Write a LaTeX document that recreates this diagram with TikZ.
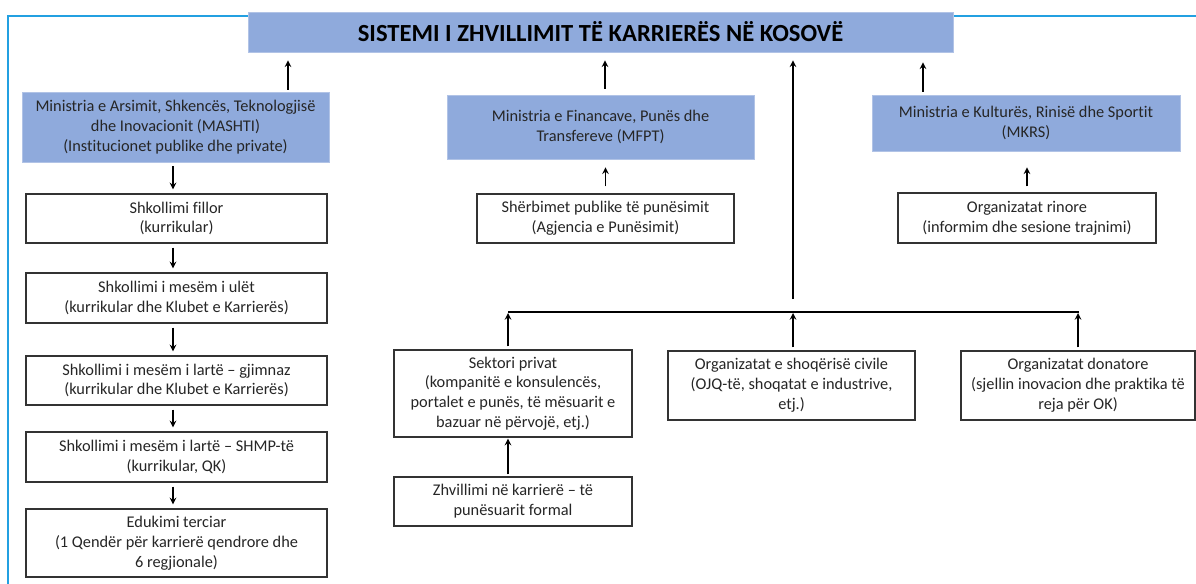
\documentclass[tikz,border=0pt]{standalone}
\usepackage{fontspec}
\setmainfont{Carlito}[Ligatures={NoCommon}]
\definecolor{boxblue}{RGB}{143,170,220}
\definecolor{framecol}{RGB}{35,160,225}
\begin{document}
\begin{tikzpicture}[x=0.02cm,y=-0.02cm,>=stealth,line width=0.7pt,
  every node/.style={font=\fontsize{9.3}{11.3}\selectfont,align=center,inner sep=0pt,text=black!85},
  bluebox/.style={fill=boxblue,draw=boxblue!70!white,line width=0.4pt},
  whitebox/.style={draw=black!80,line width=0.75pt,fill=white}]
\useasboundingbox (0,0) rectangle (1196,583);
\draw[framecol,line width=1.3pt] (8,600) -- (8,16) -- (1210,16);

\node[bluebox,minimum width=14.1cm,minimum height=0.8cm,font=\fontsize{14}{16}\selectfont\bfseries,text=black] (title) at (600.5,32) {SISTEMI I ZHVILLIMIT TË KARRIERËS NË KOSOVË};

\node[bluebox,minimum width=6.14cm,minimum height=1.4cm] (mashti) at (175.5,127) {Ministria e Arsimit, Shkencës, Teknologjisë\\dhe Inovacionit (MASHTI)\\(Institucionet publike dhe private)};
\node[bluebox,minimum width=6.14cm,minimum height=1.28cm] (mfpt) at (600.5,127) {Ministria e Financave, Punës dhe\\Transfereve (MFPT)};
\node[bluebox,minimum width=6.16cm,minimum height=1.12cm] (mkrs) at (1026,123) {Ministria e Kulturës, Rinisë dhe Sportit\\(MKRS)};

\node[whitebox,minimum width=5.14cm,minimum height=0.98cm] (sherbimet) at (605.5,218.5) {Shërbimet publike të punësimit\\(Agjencia e Punësimit)};
\node[whitebox,minimum width=5.16cm,minimum height=1cm] (rinore) at (1027,218) {Organizatat rinore\\(informim dhe sesione trajnimi)};

\node[whitebox,minimum width=6.02cm,minimum height=0.98cm] (fillor) at (176.5,218.5) {Shkollimi fillor\\(kurrikular)};
\node[whitebox,minimum width=6.02cm,minimum height=1cm] (ulet) at (176.5,298) {Shkollimi i mesëm i ulët\\(kurrikular dhe Klubet e Karrierës)};
\node[whitebox,minimum width=6.02cm,minimum height=0.98cm] (gjimnaz) at (176.5,380.5) {Shkollimi i mesëm i lartë – gjimnaz\\(kurrikular dhe Klubet e Karrierës)};
\node[whitebox,minimum width=6.02cm,minimum height=1cm] (shmp) at (176.5,457) {Shkollimi i mesëm i lartë – SHMP-të\\(kurrikular, QK)};
\node[whitebox,minimum width=6.02cm,minimum height=1.36cm] (terciar) at (176.5,543) {Edukimi terciar\\(1 Qendër për karrierë qendrore dhe\\6 regjionale)};

\node[whitebox,minimum width=4.76cm,minimum height=1.74cm] (sektori) at (513,393.5) {Sektori privat\\(kompanitë e konsulencës,\\portalet e punës, të mësuarit e\\bazuar në përvojë, etj.)};
\node[whitebox,minimum width=4.76cm,minimum height=0.98cm] (zhvillimi) at (513,501.5) {Zhvillimi në karrierë – të\\punësuarit formal};
\node[whitebox,minimum width=4.94cm,minimum height=1.38cm] (oshc) at (791.5,385.5) {Organizatat e shoqërisë civile\\(OJQ-të, shoqatat e industrive,\\etj.)};
\node[whitebox,minimum width=4.68cm,minimum height=1.38cm] (donatore) at (1078,385.5) {Organizatat donatore\\(sjellin inovacion dhe praktika të\\reja për OK)};

\draw[->,shorten <=0.04cm,shorten >=0.16cm] ([xshift=2.25cm]mashti.north) -- ([xshift=2.25cm]mashti.north |- title.south);
\draw[->,shorten <=0.12cm,shorten >=0.16cm] ([xshift=0.09cm]mfpt.north) -- ([xshift=0.09cm]mfpt.north |- title.south);
\draw[->,shorten <=0.06cm,shorten >=0.2cm] ([xshift=-2.06cm]mkrs.north) -- ([xshift=-2.06cm]mkrs.north |- title.south);
\draw[->,shorten <=0.14cm,shorten >=0.16cm] (sherbimet.north) -- (sherbimet.north |- mfpt.south);
\draw[->,shorten <=0.12cm,shorten >=0.32cm] (rinore.north) -- (rinore.north |- mkrs.south);

\draw[->,shorten <=0.08cm,shorten >=0.08cm] ([xshift=-0.05cm]mashti.south) -- ([xshift=-0.05cm]mashti.south |- fillor.north);
\draw[->,shorten <=0.08cm,shorten >=0.08cm] ([xshift=-0.07cm]fillor.south) -- ([xshift=-0.07cm]ulet.north);
\draw[->,shorten <=0.08cm,shorten >=0.08cm] ([xshift=-0.07cm]ulet.south) -- ([xshift=-0.07cm]gjimnaz.north);
\draw[->,shorten <=0.08cm,shorten >=0.08cm] ([xshift=-0.07cm]gjimnaz.south) -- ([xshift=-0.07cm]shmp.north);
\draw[->,shorten <=0.08cm,shorten >=0.08cm] ([xshift=-0.07cm]shmp.south) -- ([xshift=-0.07cm]terciar.north);

\coordinate (hl) at (508,312);
\coordinate (hr) at (1079,312);
\coordinate (vb) at (793,299);
\draw (hl) -- (hr);
\draw[->,shorten >=0.16cm] (vb) -- (vb |- title.south);
\draw[->,shorten <=0.06cm,shorten >=0.02cm] ([xshift=-0.1cm]sektori.north) -- ([xshift=-0.1cm]sektori.north |- hl);
\draw[->,shorten <=0.06cm,shorten >=0.02cm] ([xshift=0.03cm]oshc.north) -- ([xshift=0.03cm]oshc.north |- hl);
\draw[->,shorten <=0.06cm,shorten >=0.02cm] (donatore.north) -- (donatore.north |- hl);
\draw[->,shorten <=0.04cm,shorten >=0.02cm] ([xshift=-0.1cm]zhvillimi.north) -- ([xshift=-0.1cm]sektori.south);
\end{tikzpicture}
\end{document}
